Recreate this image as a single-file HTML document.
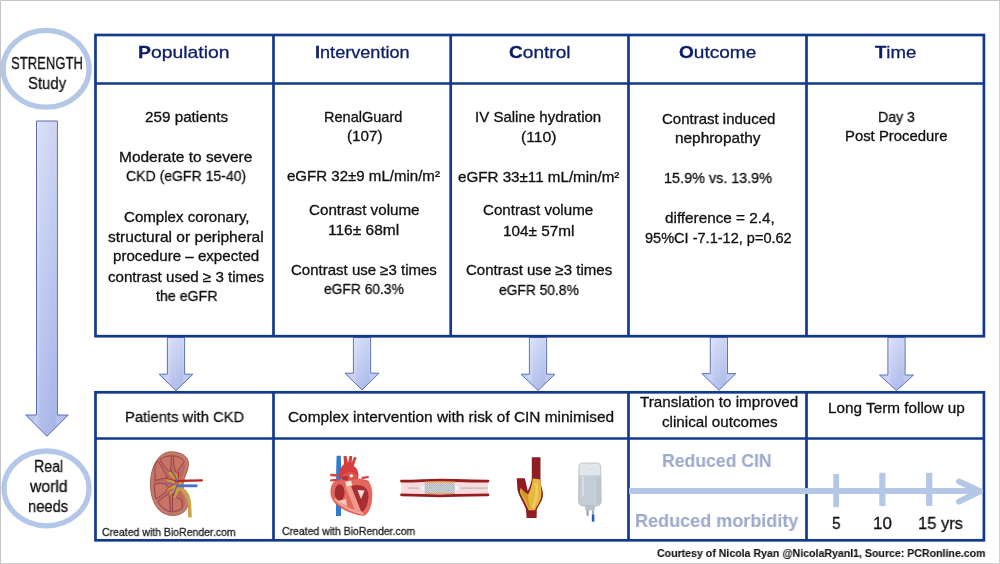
<!DOCTYPE html>
<html><head><meta charset="utf-8"><style>
html,body{margin:0;padding:0;background:#fff;}
body{width:1000px;height:564px;position:relative;overflow:hidden;font-family:"Liberation Sans",sans-serif;}
.t{position:absolute;white-space:nowrap;line-height:1;transform-origin:0 0;-webkit-text-stroke:0.3px currentColor;will-change:transform;}
.t b{font-weight:bold;}
svg{position:absolute;left:0;top:0;}
</style></head><body>
<svg width="1000" height="564" viewBox="0 0 1000 564">
<defs>
<linearGradient id="ag" x1="0" y1="0" x2="0" y2="1">
<stop offset="0" stop-color="#d4dbf5"/><stop offset="1" stop-color="#a9b7ea"/>
</linearGradient>
<linearGradient id="ags" x1="0" y1="0" x2="0" y2="1">
<stop offset="0" stop-color="#d4dbf5"/><stop offset="1" stop-color="#afbcec"/>
</linearGradient>
<linearGradient id="agh" x1="0" y1="0" x2="1" y2="0">
<stop offset="0" stop-color="#ffffff" stop-opacity="0"/><stop offset="0.26" stop-color="#ffffff" stop-opacity="0.3"/><stop offset="0.36" stop-color="#ffffff" stop-opacity="0.08"/><stop offset="0.68" stop-color="#8090d0" stop-opacity="0.08"/><stop offset="0.74" stop-color="#ffffff" stop-opacity="0.15"/><stop offset="1" stop-color="#ffffff" stop-opacity="0"/>
</linearGradient>
<pattern id="mesh" x="424.8" y="483" width="2.2" height="2.2" patternUnits="userSpaceOnUse"><rect width="2.2" height="2.2" fill="#e6e8ec"/><rect width="1.1" height="1.1" fill="#9aa1ad"/><rect x="1.1" y="1.1" width="1.1" height="1.1" fill="#9aa1ad"/></pattern>
</defs>
<!-- frame -->
<path d="M0.5,564 L0.5,0.5 L1000,0.5" fill="none" stroke="#c4c4c4" stroke-width="1"/><path d="M999.5,1 L999.5,563.5 L1,563.5" fill="none" stroke="#d0d0d0" stroke-width="1"/>
<!-- circles -->
<ellipse cx="46.1" cy="68.8" rx="43" ry="38.4" fill="none" stroke="#b4c7e7" stroke-width="5.3"/>
<ellipse cx="46.5" cy="488.4" rx="42.5" ry="37.4" fill="none" stroke="#b4c7e7" stroke-width="5.3"/>
<!-- big arrow -->
<path d="M36.5,121 L57.4,121 L57.4,415 L68.2,415 L46.9,436.3 L25.7,415 L36.5,415 Z" fill="url(#ag)"/>
<path d="M36.5,121 L57.4,121 L57.4,415 L68.2,415 L46.9,436.3 L25.7,415 L36.5,415 Z" fill="url(#agh)" stroke="#5a6cb2" stroke-width="1"/>
<!-- small arrows -->
<path d="M167.4,337.5 L184.6,337.5 L184.6,374.2 L193,374.2 L176,390.6 L159,374.2 L167.4,374.2 Z" fill="url(#ags)"/>
<path d="M167.4,337.5 L184.6,337.5 L184.6,374.2 L193,374.2 L176,390.6 L159,374.2 L167.4,374.2 Z" fill="url(#agh)" stroke="#5f72b6" stroke-width="1"/>
<path d="M353.4,337.5 L370.6,337.5 L370.6,373.2 L379,373.2 L362,389.9 L345,373.2 L353.4,373.2 Z" fill="url(#ags)"/>
<path d="M353.4,337.5 L370.6,337.5 L370.6,373.2 L379,373.2 L362,389.9 L345,373.2 L353.4,373.2 Z" fill="url(#agh)" stroke="#5f72b6" stroke-width="1"/>
<path d="M529.4,337.5 L546.6,337.5 L546.6,374.2 L555,374.2 L538,390.4 L521,374.2 L529.4,374.2 Z" fill="url(#ags)"/>
<path d="M529.4,337.5 L546.6,337.5 L546.6,374.2 L555,374.2 L538,390.4 L521,374.2 L529.4,374.2 Z" fill="url(#agh)" stroke="#5f72b6" stroke-width="1"/>
<path d="M710.3,337.5 L727.5,337.5 L727.5,373.6 L735.9,373.6 L718.9,390.3 L701.9,373.6 L710.3,373.6 Z" fill="url(#ags)"/>
<path d="M710.3,337.5 L727.5,337.5 L727.5,373.6 L735.9,373.6 L718.9,390.3 L701.9,373.6 L710.3,373.6 Z" fill="url(#agh)" stroke="#5f72b6" stroke-width="1"/>
<path d="M887.9,337.5 L905.1,337.5 L905.1,375 L913.5,375 L896.5,390.6 L879.5,375 L887.9,375 Z" fill="url(#ags)"/>
<path d="M887.9,337.5 L905.1,337.5 L905.1,375 L913.5,375 L896.5,390.6 L879.5,375 L887.9,375 Z" fill="url(#agh)" stroke="#5f72b6" stroke-width="1"/>
<!-- tables -->
<g fill="none" stroke="#12398a" stroke-width="2.7">
<rect x="95.5" y="35" width="888.4" height="301.2"/>
<line x1="95.5" y1="83.5" x2="983.9" y2="83.5"/>
<line x1="273.5" y1="35" x2="273.5" y2="336.2"/>
<line x1="450.7" y1="35" x2="450.7" y2="336.2"/>
<line x1="628.5" y1="35" x2="628.5" y2="336.2"/>
<line x1="806.5" y1="35" x2="806.5" y2="336.2"/>
<rect x="95.5" y="392.3" width="888.4" height="148"/>
<line x1="95.5" y1="438.5" x2="983.9" y2="438.5"/>
<line x1="273.5" y1="392.3" x2="273.5" y2="540.3"/>
<line x1="628.5" y1="392.3" x2="628.5" y2="540.3"/>
<line x1="806.5" y1="392.3" x2="806.5" y2="540.3"/>
</g>
<!-- timeline -->
<g stroke="#b4c7e7" fill="none">
<line x1="629" y1="491" x2="979" y2="491" stroke-width="6"/>
<polyline points="959,481.6 980,491.2 959,501.6" stroke-width="6" stroke-linecap="round" stroke-linejoin="round"/>
</g>
<g fill="#b4c7e7">
<rect x="833.3" y="474" width="5.8" height="33.2"/>
<rect x="879.3" y="472.8" width="6.2" height="33.1"/>
<rect x="926.1" y="472.8" width="6.2" height="33.1"/>
</g>
<!--ILLUS-->
<!-- kidney -->
<g>
<path d="M171,451.8 C180.5,451.8 188.5,456 188.5,464 C188.5,471 184,476 183,484 C182.5,491 188,495 188,503 C188,510.5 181,515.5 173,515.5 C158,515.5 150.5,501 150.5,484 C150.5,466 159,451.8 171,451.8 Z" fill="#c57c6c" stroke="#9c5548" stroke-width="0.9"/>
<path d="M171,454.6 C179,454.6 185.5,458.5 185.5,465 C185.5,471 181,476 180,484 C179.5,491 185,496 185,503 C185,509 179,512.8 173,512.8 C161,512.8 153.2,500 153.2,484 C153.2,468 161,454.6 171,454.6 Z" fill="#bd6a5e"/>
<g fill="#c97464" stroke="#8a3a50" stroke-width="0.8" stroke-linejoin="round">
<path d="M159.5,459.5 Q165,455.5 171.5,455.8 L170.5,472 Q165,468 159.5,459.5 Z"/>
<path d="M173.5,455.8 Q180,456.5 184.3,461.5 L176,473 Q173,466 173.5,455.8 Z"/>
<path d="M154.8,467.5 Q155,463 158,461 L167.5,477.5 Q160,479 155.3,480.5 Z"/>
<path d="M154.3,484 Q160,482.5 167,484 L166.5,491 Q161,496 156,499 Q154,492 154.3,484 Z"/>
<path d="M158,502 Q163,497 169,493.5 L170.5,511.8 Q162.5,509.5 158,502 Z"/>
<path d="M172.5,494.5 Q177,498 181.5,500 L182.5,507.5 Q178,511.8 172.5,511.8 Z"/>
</g>
<g stroke="#c6a13f" stroke-linecap="round" fill="none" stroke-width="2.6">
<path d="M180,483.5 L170,473 M180,484 L175,473.5 M180,484 L167.5,480 M180,485 L167,489 M180,486 L170.5,494 M180,486 L175,496"/>
</g>
<ellipse cx="177.5" cy="484.5" rx="4.5" ry="6.5" fill="#c9a443"/>
<g stroke="#c0262c" fill="none" stroke-width="0.9">
<path d="M177,481 L171,470.5 M177,481 L166,478.5 M177,482 L165.5,490 M178,482 L173,496 M178,481 L178.5,472"/>
</g>
<path d="M175.5,481 L201.8,480.4" stroke="#c0262c" stroke-width="2.4" stroke-linecap="round"/>
<g stroke="#4a6fd4" fill="none" stroke-width="0.9">
<path d="M178,485.5 L168,483 M178,486 L171,495.5 M178,485 L174.5,472.5"/>
</g>
<path d="M177,485.8 L197.4,485.8" stroke="#4a6fd4" stroke-width="2.8"/>
<path d="M181,489 C186.5,491.5 189,497 189.5,505 L190,517.4" stroke="#c9a448" stroke-width="3.6" fill="none"/>
</g>
<!-- heart -->
<g>
<path d="M336.6,455.8 L340.8,455.8 L341.2,470 L341,516 L336,516 L336.2,470 Z" fill="#2e7bd1"/>
<g stroke="#d8413f" stroke-width="2.3" stroke-linecap="round">
<path d="M331.2,475 L337.5,475.5 M331.2,480.3 L337.5,479.8 M362.5,477.8 L367.8,477.2 M362.5,481 L367.8,481.8"/>
</g>
<path d="M343.5,456 L346.5,456 L348,463 L349.5,456 L352.2,456 L351.6,463 L354,456.8 L356.6,457.8 L353.6,466 C357.5,468 359.2,473 358.2,478.5 L352,480 C351.5,475.5 349.5,473.8 346,474.2 C343.5,474.6 342.5,476.2 342,479 L339.6,478 C339,472 340.5,467 344,464 Z" fill="#d63d3c"/>
<ellipse cx="350.5" cy="476.5" rx="6.5" ry="4.5" fill="#e0534d"/>
<ellipse cx="345" cy="478.5" rx="3.2" ry="3" fill="#b0353a"/>
<circle cx="351.3" cy="475.8" r="1.6" fill="#ffffff"/>
<path d="M333.7,482.4 C337,479.5 343,479 348,481 C353,478 362,478 368,481.5 C371.5,485 372.5,492 371.7,500 C370.8,508 367.5,514 364.3,515.6 C357,515.2 344,511 337,505 C332,500.5 330.5,495.5 330.8,491 C331,487 332,484.5 333.7,482.4 Z" fill="#e4685d" stroke="#c4453f" stroke-width="0.5"/>
<path d="M334,499 C338,505 350,512 364,515.2 L363,512.5 C352,510 342,505 336.5,498 Z" fill="#f3a596"/>
<ellipse cx="339.6" cy="492.5" rx="5" ry="8.2" fill="#a52c31"/>
<path d="M352.5,485.5 C360,483.5 367,486.5 368.3,493 C369.3,501 366.5,508.5 362.5,511.8 C356.5,509 351.5,500 350.5,492.5 C350.3,488.5 350.8,486.5 352.5,485.5 Z" fill="#a92e33"/>
<path d="M345.5,487 L351,486 L361.5,512.5 L355.5,511.5 Z" fill="#ef9a8a"/>
<path d="M345.2,482 L351,480.6 L352.4,485.2 L346.6,486.8 Z" fill="#efe6de"/>
<path d="M357.5,490 L364.5,490.5 L361,499 Z" fill="#f4e4dc"/>
<path d="M338,501 L346,499 L347,506 Z" fill="#f2ddd6" opacity="0.8"/>
</g>
<!-- stent -->
<g>
<rect x="401.5" y="481.8" width="86.5" height="11.8" fill="#f8dcdc"/>
<path d="M401.5,481.1 C420,481.1 425,480.1 440,480.1 C455,480.1 460,481.1 488,481.1" stroke="#9b1b22" stroke-width="2.8" fill="none" stroke-linecap="round"/>
<path d="M401.5,494.8 C420,494.8 425,495.8 440,495.8 C455,495.8 460,494.8 488,494.8" stroke="#9b1b22" stroke-width="2.8" fill="none" stroke-linecap="round"/>
<path d="M425,482.2 L455,482.2 M425,493.4 L455,493.4" stroke="#e9a53a" stroke-width="1.3"/>
<path d="M408,488.1 L487.5,488.1" stroke="#9aa2ae" stroke-width="0.8"/>
<path d="M418.5,488.1 L425,483 L425,493.2 Z M461,488.1 L454.5,483 L454.5,493.2 Z" fill="#eef0f4" stroke="#c4c9d2" stroke-width="0.5"/>
<rect x="424.8" y="483" width="29.8" height="10.2" fill="url(#mesh)"/>
</g>
<!-- carotid -->
<g>
<path d="M516.7,478.2 L524.8,478.2 L527.8,491 C529.5,487 531.5,483 531.8,478 L531.8,457.2 L540.5,457.2 L540.5,484 C542.5,489 543.5,494 542.5,498 C541.2,503 538,506 536.8,509.5 L536.6,518 L526.6,518 L526,509 C523.5,503 519,496 517.5,490 Z" fill="#8e1c22"/>
<path d="M532.7,478.6 L539.6,479.2 C541.2,486 542,493 540.8,498.5 C539.3,503.3 536.3,506.5 535,510.2 L528.6,510.2 C526.6,505 523,499 519.8,492.2 L520.7,487.8 C523.6,491.5 526,493.5 528.2,494.5 C530.6,489.6 532.4,484 532.7,478.6 Z" fill="#e6b840"/>
<path d="M534.5,482 C536.5,490 535.5,499 531.5,506 L533.5,508.5 C537.5,502 539,493 537.5,484 Z" fill="#f3d068" opacity="0.8"/>
<path d="M521,492.5 C524,498 527,502 529,509 L530.5,509 C529,503 527.5,498 528.2,494.5 C526,493.5 523.5,491.5 521,489 Z" fill="#c99224" opacity="0.8"/>
</g>
<!-- IV bag -->
<g>
<path d="M584.5,505.5 L595.5,505.5 L594.5,510.5 L585.5,510.5 Z" fill="#b9c3cc"/>
<path d="M582.5,463.1 L597.3,463.1 C599.5,463.1 600.6,464.8 600.8,467 L601.1,501.5 C601.1,504 599.3,505.9 597,505.9 L582.8,505.9 C580.5,505.9 578.7,504 578.7,501.5 L579,467 C579.2,464.8 580.3,463.1 582.5,463.1 Z" fill="#c5ced6" stroke="#a9b3bd" stroke-width="0.8"/>
<path d="M579.3,475.5 L579.4,467.2 C579.6,465.2 580.6,463.6 582.6,463.6 L597.2,463.6 C599.2,463.6 600.2,465.2 600.4,467.2 L600.5,475.5 Z" fill="#e0e6ea"/>
<circle cx="589.9" cy="466.8" r="1.5" fill="#ffffff" stroke="#b8c1c9" stroke-width="0.4"/>
<rect x="582.2" y="477" width="1.6" height="19" fill="#dde3e8"/>
<rect x="596.5" y="476" width="3.6" height="28" fill="#bac4cd" opacity="0.7"/>
<rect x="586.6" y="510.3" width="2" height="5.5" fill="#a39492"/>
<rect x="592" y="510.3" width="2" height="4.5" fill="#a3aeb9"/>
<rect x="591.8" y="514.5" width="2.6" height="7.2" fill="#2f58b4"/>
</g>
</svg>

<div class="t" style="left:138.46px;top:43.61px;font-size:17.0px;color:#0c1f66;transform:scaleX(1.1383)"><b>P</b>opulation</div>
<div class="t" style="left:314.54px;top:43.61px;font-size:17.0px;color:#0c1f66;transform:scaleX(1.0643)"><b>I</b>ntervention</div>
<div class="t" style="left:509.20px;top:43.61px;font-size:17.0px;color:#0c1f66;transform:scaleX(1.1217)"><b>C</b>ontrol</div>
<div class="t" style="left:679.20px;top:43.61px;font-size:17.0px;color:#0c1f66;transform:scaleX(1.1209)"><b>O</b>utcome</div>
<div class="t" style="left:874.80px;top:43.61px;font-size:17.0px;color:#0c1f66;transform:scaleX(1.0932)"><b>T</b>ime</div>
<div class="t" style="left:144.90px;top:109.73px;font-size:14.5px;color:#111111;transform:scaleX(1.0513)">259 patients</div>
<div class="t" style="left:118.93px;top:149.73px;font-size:14.5px;color:#111111;transform:scaleX(1.0673)">Moderate to severe</div>
<div class="t" style="left:126.20px;top:168.73px;font-size:14.5px;color:#111111;transform:scaleX(0.9679)">CKD (eGFR 15-40)</div>
<div class="t" style="left:123.90px;top:209.73px;font-size:14.5px;color:#111111;transform:scaleX(1.0411)">Complex coronary,</div>
<div class="t" style="left:108.10px;top:229.73px;font-size:14.5px;color:#111111;transform:scaleX(1.0736)">structural or peripheral</div>
<div class="t" style="left:113.20px;top:248.73px;font-size:14.5px;color:#111111;transform:scaleX(1.0428)">procedure – expected</div>
<div class="t" style="left:108.10px;top:269.73px;font-size:14.5px;color:#111111;transform:scaleX(1.0425)">contrast used ≥ 3 times</div>
<div class="t" style="left:155.50px;top:288.73px;font-size:14.5px;color:#111111;transform:scaleX(0.9778)">the eGFR</div>
<div class="t" style="left:324.20px;top:109.73px;font-size:14.5px;color:#111111;transform:scaleX(1.0023)">RenalGuard</div>
<div class="t" style="left:346.60px;top:128.73px;font-size:14.5px;color:#111111;transform:scaleX(1.0508)">(107)</div>
<div class="t" style="left:287.30px;top:168.73px;font-size:14.5px;color:#111111;transform:scaleX(1.0378)">eGFR 32±9 mL/min/m²</div>
<div class="t" style="left:308.70px;top:202.73px;font-size:14.5px;color:#111111;transform:scaleX(1.0473)">Contrast volume</div>
<div class="t" style="left:327.93px;top:222.73px;font-size:14.5px;color:#111111;transform:scaleX(1.0687)">116± 68ml</div>
<div class="t" style="left:291.20px;top:262.73px;font-size:14.5px;color:#111111;transform:scaleX(1.0350)">Contrast use ≥3 times</div>
<div class="t" style="left:323.70px;top:281.73px;font-size:14.5px;color:#111111;transform:scaleX(0.9521)">eGFR 60.3%</div>
<div class="t" style="left:474.96px;top:109.73px;font-size:14.5px;color:#111111;transform:scaleX(1.0369)">IV Saline hydration</div>
<div class="t" style="left:521.00px;top:129.73px;font-size:14.5px;color:#111111;transform:scaleX(1.0831)">(110)</div>
<div class="t" style="left:457.70px;top:169.73px;font-size:14.5px;color:#111111;transform:scaleX(1.0459)">eGFR 33±11 mL/min/m²</div>
<div class="t" style="left:483.20px;top:202.73px;font-size:14.5px;color:#111111;transform:scaleX(1.0435)">Contrast volume</div>
<div class="t" style="left:502.64px;top:223.73px;font-size:14.5px;color:#111111;transform:scaleX(1.0559)">104± 57ml</div>
<div class="t" style="left:465.60px;top:262.73px;font-size:14.5px;color:#111111;transform:scaleX(1.0371)">Contrast use ≥3 times</div>
<div class="t" style="left:498.80px;top:282.73px;font-size:14.5px;color:#111111;transform:scaleX(0.9521)">eGFR 50.8%</div>
<div class="t" style="left:661.70px;top:111.73px;font-size:14.5px;color:#111111;transform:scaleX(1.0342)">Contrast induced</div>
<div class="t" style="left:675.40px;top:130.73px;font-size:14.5px;color:#111111;transform:scaleX(1.0606)">nephropathy</div>
<div class="t" style="left:664.21px;top:170.73px;font-size:14.5px;color:#111111;transform:scaleX(0.9924)">15.9% vs. 13.9%</div>
<div class="t" style="left:664.70px;top:210.73px;font-size:14.5px;color:#111111;transform:scaleX(1.0534)">difference = 2.4,</div>
<div class="t" style="left:645.20px;top:230.73px;font-size:14.5px;color:#111111;transform:scaleX(1.0025)">95%CI -7.1-12, p=0.62</div>
<div class="t" style="left:878.22px;top:109.73px;font-size:14.5px;color:#111111;transform:scaleX(0.9752)">Day 3</div>
<div class="t" style="left:845.27px;top:128.73px;font-size:14.5px;color:#111111;transform:scaleX(1.0255)">Post Procedure</div>
<div class="t" style="left:125.21px;top:409.30px;font-size:15.0px;color:#111111;transform:scaleX(0.9863)">Patients with CKD</div>
<div class="t" style="left:288.20px;top:409.30px;font-size:15.0px;color:#111111;transform:scaleX(1.0266)">Complex intervention with risk of CIN minimised</div>
<div class="t" style="left:640.30px;top:394.30px;font-size:15.0px;color:#111111;transform:scaleX(1.0126)">Translation to improved</div>
<div class="t" style="left:661.70px;top:414.30px;font-size:15.0px;color:#111111;transform:scaleX(1.0122)">clinical outcomes</div>
<div class="t" style="left:827.98px;top:400.30px;font-size:15.0px;color:#111111;transform:scaleX(1.0203)">Long Term follow up</div>
<div class="t" style="left:662.07px;top:450.92px;font-size:19px;font-weight:bold;-webkit-text-stroke-width:0.1px;color:#9dabca;transform:scaleX(0.9269)">Reduced CIN</div>
<div class="t" style="left:635.15px;top:510.92px;font-size:19px;font-weight:bold;-webkit-text-stroke-width:0.1px;color:#9dabca;transform:scaleX(0.9492)">Reduced morbidity</div>
<div class="t" style="left:831.80px;top:514.61px;font-size:17px;color:#111111;transform:scaleX(0.9111)">5</div>
<div class="t" style="left:872.80px;top:514.61px;font-size:17px;color:#111111;transform:scaleX(0.9969)">10</div>
<div class="t" style="left:917.63px;top:514.61px;font-size:17px;color:#111111;transform:scaleX(0.9689)">15 yrs</div>
<div class="t" style="left:102.20px;top:526.69px;font-size:11px;color:#1c1c1c;transform:scaleX(0.9546)">Created with BioRender.com</div>
<div class="t" style="left:281.50px;top:525.69px;font-size:11px;color:#1c1c1c;transform:scaleX(0.9517)">Created with BioRender.com</div>
<div class="t" style="left:656.80px;top:547.52px;font-size:11.2px;font-weight:bold;-webkit-text-stroke-width:0.1px;color:#111;transform:scaleX(0.9459)">Courtesy of Nicola Ryan @NicolaRyanI1, Source: PCRonline.com</div>
<div class="t" style="left:11.00px;top:56.46px;font-size:16px;color:#111111;transform:scaleX(0.8165)">STRENGTH</div>
<div class="t" style="left:27.50px;top:76.46px;font-size:16px;color:#111111;transform:scaleX(0.9312)">Study</div>
<div class="t" style="left:33.71px;top:459.46px;font-size:16px;color:#111111;transform:scaleX(0.8867)">Real</div>
<div class="t" style="left:30.28px;top:479.46px;font-size:16px;color:#111111;transform:scaleX(0.9834)">world</div>
<div class="t" style="left:27.78px;top:499.46px;font-size:16px;color:#111111;transform:scaleX(0.9203)">needs</div>
</body></html>
